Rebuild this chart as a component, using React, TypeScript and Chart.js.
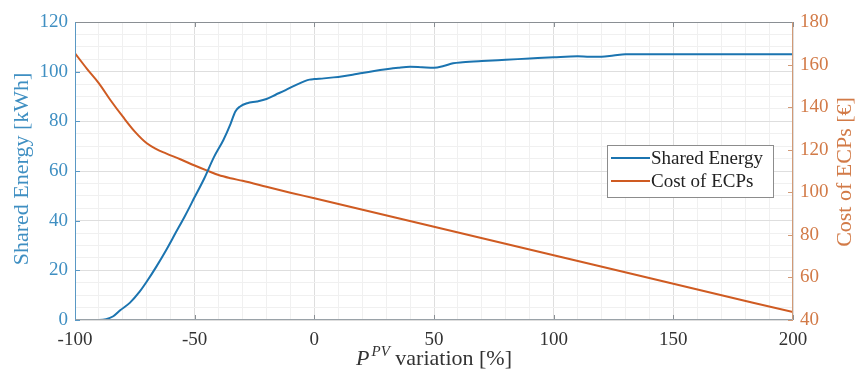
import React, { useEffect, useRef } from 'react';
import { Chart, registerables } from 'chart.js';

Chart.register(...registerables);

// ---- data ----
const energyX = [-100, -95, -90, -87, -84, -81, -77, -73, -70, -66, -62, -58, -54, -50, -46, -42, -38, -35, -33, -31, -28, -24, -20, -16, -12, -8, -4, -2, 0, 4, 8, 12, 16, 20, 25, 30, 35, 40, 45, 50, 54, 58, 62, 70, 80, 90, 100, 110, 115, 120, 125, 130, 140, 160, 180, 200];
const sharedEnergy = [0, 0, 0, 0.3, 1.5, 4, 7, 11.4, 15.5, 21.5, 28, 35, 42, 49.5, 57, 65.5, 72.5, 79, 84, 86, 87.3, 88, 89, 90.8, 92.6, 94.5, 96.2, 96.8, 97, 97.3, 97.7, 98.2, 98.8, 99.5, 100.3, 101, 101.6, 102, 101.8, 101.6, 102.3, 103.4, 103.8, 104.3, 104.8, 105.3, 105.8, 106.2, 106, 106, 106.5, 107, 107, 107, 107, 107];

const costX = [-100, -95, -90, -85, -80, -75, -70, -66, -62, -56, -50, -45, -40, -35, -30, -20, -10, 0, 50, 100, 150, 200];
const costOfECPs = [165.3, 158, 151.2, 143, 135.5, 128.5, 123, 120.3, 118.3, 115.5, 112.6, 110.3, 108.1, 106.6, 105.4, 102.6, 99.8, 97.2, 83.8, 70.4, 57.0, 43.7];

const xMajorTicks = [-100, -50, 0, 50, 100, 150, 200];
const leftMajorTicks = [0, 20, 40, 60, 80, 100, 120];
const rightTicks = [40, 60, 80, 100, 120, 140, 160, 180];
const seriesLabels = ['Shared Energy', 'Cost of ECPs'];
const leftTitle = 'Shared Energy [kWh]';
const rightTitle = 'Cost of ECPs [€]';
const xTitleMain = 'P';
const xTitleSup = 'PV';
const xTitleRest = ' variation [%]';

const BLUE = '#1b74b0';
const ORANGE = '#cf5b22';
const BLUE_TXT = '#3f8fc2';
const ORANGE_TXT = '#d27a47';
const SERIF = '"Liberation Serif", "DejaVu Serif", serif';

const decorPlugin = {
  id: 'matlabDecor',
  afterDatasetsDraw(chart: any) {
    const { ctx, chartArea } = chart;
    const { left, right, top, bottom } = chartArea;
    const xs = chart.scales.x;
    const yl = chart.scales.y;
    const yr = chart.scales.y1;
    ctx.save();
    ctx.lineWidth = 1;
    const line = (x1: number, y1: number, x2: number, y2: number, c: string) => {
      ctx.strokeStyle = c;
      ctx.beginPath();
      ctx.moveTo(x1, y1);
      ctx.lineTo(x2, y2);
      ctx.stroke();
    };
    const T = 5;
    xMajorTicks.forEach((v) => {
      const px = Math.round(xs.getPixelForValue(v)) + 0.5;
      line(px, bottom, px, bottom - T, '#8a8f94');
      line(px, top, px, top + T, '#8a8f94');
    });
    leftMajorTicks.forEach((v) => {
      const py = Math.round(yl.getPixelForValue(v)) + 0.5;
      line(left, py, left + T, py, '#5a98c4');
    });
    rightTicks.forEach((v) => {
      const py = Math.round(yr.getPixelForValue(v)) + 0.5;
      line(right, py, right - T, py, '#d29a76');
    });
    const L = Math.round(left) + 0.5;
    const R = Math.round(right) - 0.5;
    const Tp = Math.round(top) + 0.5;
    const B = Math.round(bottom) - 0.5;
    line(L, Tp, R, Tp, '#8a8f94');
    line(L, B, R, B, '#9aa2a8');
    line(L, Tp, L, B, '#5a98c4');
    line(R, Tp, R, B, '#d29a76');
    ctx.restore();
  },
  afterDraw(chart: any) {
    const { ctx, chartArea } = chart;
    ctx.save();
    // left axis title
    ctx.fillStyle = BLUE_TXT;
    ctx.font = `22px ${SERIF}`;
    ctx.textAlign = 'center';
    ctx.textBaseline = 'middle';
    ctx.save();
    ctx.translate(22, 169);
    ctx.rotate(-Math.PI / 2);
    ctx.fillText(leftTitle, 0, 0);
    ctx.restore();
    // right axis title
    ctx.fillStyle = ORANGE_TXT;
    ctx.save();
    ctx.translate(845, 172);
    ctx.rotate(-Math.PI / 2);
    ctx.fillText(rightTitle, 0, 0);
    ctx.restore();
    // x title with superscript
    ctx.fillStyle = '#333333';
    ctx.textBaseline = 'alphabetic';
    ctx.textAlign = 'left';
    const mainFont = `italic 22px ${SERIF}`;
    const supFont = `italic 15px ${SERIF}`;
    const restFont = `22px ${SERIF}`;
    ctx.font = mainFont;
    const w1 = ctx.measureText(xTitleMain).width;
    ctx.font = supFont;
    const w2 = ctx.measureText(xTitleSup).width;
    ctx.font = restFont;
    const w3 = ctx.measureText(xTitleRest).width;
    const total = w1 + 2 + w2 + w3;
    const cx = (chartArea.left + chartArea.right) / 2;
    let x0 = cx - total / 2;
    const base = 365;
    ctx.font = mainFont;
    ctx.fillText(xTitleMain, x0, base);
    x0 += w1 + 2;
    ctx.font = supFont;
    ctx.fillText(xTitleSup, x0, base - 9);
    x0 += w2;
    ctx.font = restFont;
    ctx.fillText(xTitleRest, x0, base);
    // legend
    const bx = 607.5, by = 145.5, bw = 166, bh = 52;
    ctx.fillStyle = '#ffffff';
    ctx.fillRect(bx, by, bw, bh);
    ctx.strokeStyle = '#8c8c8c';
    ctx.lineWidth = 1;
    ctx.strokeRect(bx, by, bw, bh);
    const colors = [BLUE, ORANGE];
    const rows = [158, 181];
    ctx.font = `19px ${SERIF}`;
    ctx.textBaseline = 'middle';
    chart.data.datasets.forEach((ds: any, i: number) => {
      ctx.strokeStyle = colors[i];
      ctx.lineWidth = 2;
      ctx.beginPath();
      ctx.moveTo(611, rows[i]);
      ctx.lineTo(650, rows[i]);
      ctx.stroke();
      ctx.fillStyle = '#222222';
      ctx.fillText(ds.label, 651, rows[i] + 1);
    });
    ctx.restore();
  },
};

export default function App() {
  const ref = useRef<HTMLCanvasElement | null>(null);
  useEffect(() => {
    if (!ref.current) return;
    const chart = new Chart(ref.current, {
      type: 'line',
      data: {
        datasets: [
          {
            label: seriesLabels[0],
            data: energyX.map((x, i) => ({ x, y: sharedEnergy[i] })),
            borderColor: BLUE,
            backgroundColor: BLUE,
            borderWidth: 2,
            pointRadius: 0,
            cubicInterpolationMode: 'monotone',
            yAxisID: 'y',
          },
          {
            label: seriesLabels[1],
            data: costX.map((x, i) => ({ x, y: costOfECPs[i] })),
            borderColor: ORANGE,
            backgroundColor: ORANGE,
            borderWidth: 2,
            pointRadius: 0,
            cubicInterpolationMode: 'monotone',
            yAxisID: 'y1',
          },
        ],
      },
      options: {
        responsive: false,
        animation: false,
        layout: { padding: { top: 22, left: 0, right: 0, bottom: 0 } },
        plugins: {
          legend: { display: false },
          tooltip: { enabled: false },
        },
        scales: {
          x: {
            type: 'linear',
            min: -100,
            max: 200,
            afterFit: (s: any) => { s.height = 56; },
            border: { display: false },
            grid: {
              drawTicks: false,
              color: (c: any) => (xMajorTicks.includes(Math.round(c.tick.value)) ? '#dedede' : '#f0f0f0'),
            },
            ticks: {
              stepSize: 10,
              autoSkip: false,
              maxRotation: 0,
              padding: 9,
              color: '#333333',
              font: { family: SERIF, size: 19 },
              callback: (v: any) => (xMajorTicks.includes(Math.round(v)) ? String(Math.round(v)) : ''),
            },
          },
          y: {
            type: 'linear',
            position: 'left',
            min: 0,
            max: 120,
            afterFit: (s: any) => { s.width = 75; },
            border: { display: false },
            grid: {
              drawTicks: false,
              color: (c: any) => (leftMajorTicks.includes(Math.round(c.tick.value)) ? '#dedede' : '#f0f0f0'),
            },
            ticks: {
              stepSize: 5,
              autoSkip: false,
              padding: 7,
              color: BLUE_TXT,
              font: { family: SERIF, size: 19 },
              callback: (v: any) => (leftMajorTicks.includes(Math.round(v)) ? String(Math.round(v)) : ''),
            },
          },
          y1: {
            type: 'linear',
            position: 'right',
            min: 40,
            max: 180,
            afterFit: (s: any) => { s.width = 65; },
            border: { display: false },
            grid: { display: false, drawTicks: false },
            ticks: {
              stepSize: 20,
              padding: 7,
              color: ORANGE_TXT,
              font: { family: SERIF, size: 19 },
            },
          },
        },
      },
      plugins: [decorPlugin],
    } as any);
    return () => chart.destroy();
  }, []);
  return (
    <div style={{ position: 'fixed', left: 0, top: 0, width: 858, height: 376, background: '#ffffff' }}>
      <canvas ref={ref} width={858} height={376} />
    </div>
  );
}
